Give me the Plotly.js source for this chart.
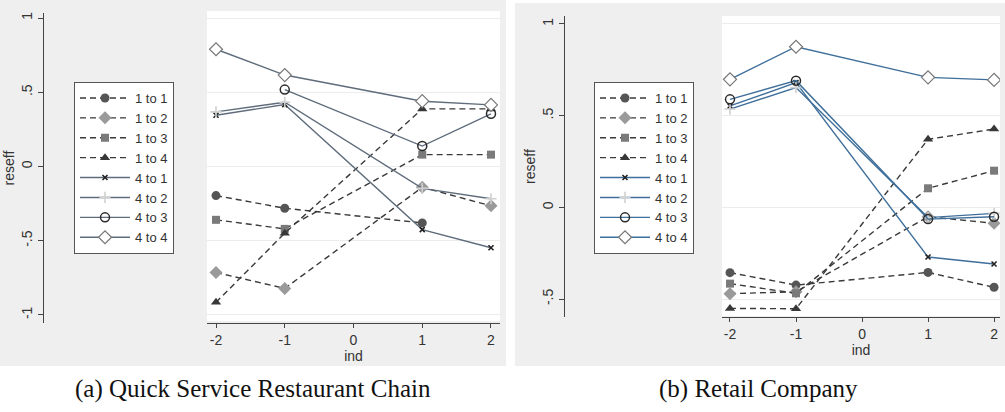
<!DOCTYPE html>
<html>
<head>
<meta charset="utf-8">
<script src="https://cdn.plot.ly/plotly-3.0.1.min.js"></script>
<style>html,body{margin:0;padding:0;background:#fff;}#chart{width:1005px;height:412px;}</style>
</head>
<body>
<div id="chart"></div>
<script>
// ---- data ----
const ind = [-2, -1, 1, 2];
const seriesNames = ["1 to 1", "1 to 2", "1 to 3", "1 to 4", "4 to 1", "4 to 2", "4 to 3", "4 to 4"];

// (a) Quick Service Restaurant Chain
const qsr_1to1 = [-0.196, -0.281, -0.380, null];
const qsr_1to2 = [-0.714, -0.821, -0.140, -0.265];
const qsr_1to3 = [-0.359, -0.420, 0.080, 0.080];
const qsr_1to4 = [-0.915, -0.449, 0.388, 0.388];
const qsr_4to1 = [0.345, 0.417, -0.425, -0.547];
const qsr_4to2 = [0.368, 0.433, -0.147, -0.217];
const qsr_4to3 = [null, 0.518, 0.138, 0.355];
const qsr_4to4 = [0.790, 0.616, 0.440, 0.415];

// (b) Retail Company
const ret_1to1 = [-0.356, -0.424, -0.355, -0.436];
const ret_1to2 = [-0.471, -0.460, -0.051, -0.087];
const ret_1to3 = [-0.416, -0.469, 0.104, 0.200];
const ret_1to4 = [-0.551, -0.553, 0.371, 0.427];
const ret_4to1 = [0.553, 0.680, -0.271, -0.309];
const ret_4to2 = [0.536, 0.653, -0.056, -0.033];
const ret_4to3 = [0.589, 0.691, -0.064, -0.051];
const ret_4to4 = [0.698, 0.876, 0.709, 0.695];

const xTickVals = [-2, -1, 0, 1, 2];
const xTickText = ["-2", "-1", "0", "1", "2"];
const yTickValsA = [-1, -0.5, 0, 0.5, 1];
const yTickTextA = ["-1", "-.5", "0", ".5", "1"];
const yTickValsB = [-0.5, 0, 0.5, 1];
const yTickTextB = ["-.5", "0", ".5", "1"];
const captions = ["(a) Quick Service Restaurant Chain", "(b) Retail Company"];
const xTitle = "ind";
const yTitle = "reseff";

// ---- styles ----
function styles(solidColor) {
  const dashLine = {color: "#3a3a3a", width: 1.4, dash: "6px,4px"};
  const solidLine = {color: solidColor, width: 1.4, dash: "solid"};
  return [
    {line: dashLine, marker: {symbol: "circle", size: 9, color: "#555555"}},
    {line: dashLine, marker: {symbol: "diamond", size: 10, color: "#9a9a9a"}},
    {line: dashLine, marker: {symbol: "square", size: 8, color: "#7a7a7a"}},
    {line: dashLine, marker: {symbol: "triangle-up", size: 9, color: "#383838"}},
    {line: solidLine, marker: {symbol: "x-thin", size: 5, color: "#222222", line: {width: 1.6, color: "#222222"}}},
    {line: solidLine, marker: {symbol: "cross-thin", size: 8, color: "#d0d0d0", line: {width: 1.6, color: "#d0d0d0"}}},
    {line: solidLine, marker: {symbol: "circle-open", size: 9, color: "#2a2a2a", line: {width: 1.5}}},
    {line: solidLine, marker: {symbol: "diamond", size: 10, color: "#ffffff", line: {width: 1.2, color: "#777777"}}}
  ];
}

const qsrSeries = [qsr_1to1, qsr_1to2, qsr_1to3, qsr_1to4, qsr_4to1, qsr_4to2, qsr_4to3, qsr_4to4];
const retSeries = [ret_1to1, ret_1to2, ret_1to3, ret_1to4, ret_4to1, ret_4to2, ret_4to3, ret_4to4];

const traces = [];
const stA = styles("#5f6c7b");
const stB = styles("#3f6f9a");
qsrSeries.forEach((ys, i) => {
  traces.push({x: ind, y: ys, name: seriesNames[i], type: "scatter", mode: "lines+markers",
    xaxis: "x", yaxis: "y", legend: "legend", line: stA[i].line, marker: stA[i].marker, connectgaps: false});
});
retSeries.forEach((ys, i) => {
  traces.push({x: ind, y: ys, name: seriesNames[i], type: "scatter", mode: "lines+markers",
    xaxis: "x2", yaxis: "y2", legend: "legend2", line: stB[i].line, marker: stB[i].marker, connectgaps: false});
});

const W = 1005, H = 412;
const px = v => v / W;
const py = v => 1 - v / H;

const tickFont = {family: "Liberation Sans, Arial, sans-serif", size: 14, color: "#333"};
const titleFont = {family: "Liberation Sans, Arial, sans-serif", size: 14, color: "#333"};

const legendBase = {
  bgcolor: "#ffffff", bordercolor: "#555", borderwidth: 1,
  font: {family: "Liberation Sans, Arial, sans-serif", size: 13, color: "#333"},
  xanchor: "left", yanchor: "top", itemwidth: 50, tracegroupgap: 0, traceorder: "normal"
};

const layout = {
  width: W, height: H,
  margin: {l: 0, r: 0, t: 0, b: 0},
  paper_bgcolor: "#ffffff",
  plot_bgcolor: "#ffffff",
  showlegend: true,
  xaxis: {
    domain: [px(207), px(500)], range: [-2.131, 2.131], anchor: "y",
    tickvals: xTickVals, ticktext: xTickText, tickfont: tickFont,
    ticks: "outside", ticklen: 4, tickcolor: "#444", showline: true, linecolor: "#444", linewidth: 1,
    showgrid: false, zeroline: false,
    title: {text: xTitle, font: titleFont, standoff: 0}
  },
  yaxis: {
    domain: [py(323), py(13)], range: [-1.054, 1.034], anchor: "free", position: px(43),
    tickvals: yTickValsA, ticktext: yTickTextA, tickfont: tickFont, tickangle: -90,
    ticks: "outside", ticklen: 5, tickcolor: "#444", showline: true, linecolor: "#444", linewidth: 1,
    showgrid: true, gridcolor: "#ececec", gridwidth: 1, zeroline: false,
    title: {text: yTitle, font: titleFont, standoff: 0}
  },
  xaxis2: {
    domain: [px(722), px(1000)], range: [-2.121, 2.09], anchor: "y2",
    tickvals: xTickVals, ticktext: xTickText, tickfont: tickFont,
    ticks: "outside", ticklen: 4, tickcolor: "#444", showline: true, linecolor: "#444", linewidth: 1,
    showgrid: false, zeroline: false,
    title: {text: xTitle, font: titleFont, standoff: 0}
  },
  yaxis2: {
    domain: [py(317), py(16)], range: [-0.598, 1.0436], anchor: "free", position: px(564),
    tickvals: yTickValsB, ticktext: yTickTextB, tickfont: tickFont, tickangle: -90,
    ticks: "outside", ticklen: 5, tickcolor: "#444", showline: true, linecolor: "#444", linewidth: 1,
    showgrid: true, gridcolor: "#ececec", gridwidth: 1, zeroline: false,
    title: {text: yTitle, font: titleFont, standoff: 0}
  },
  legend: Object.assign({}, legendBase, {x: px(74), y: py(82)}),
  legend2: Object.assign({}, legendBase, {x: px(594), y: py(82)}),
  shapes: [
    {type: "rect", xref: "paper", yref: "paper", x0: 0, x1: px(506), y0: py(366), y1: 1, fillcolor: "#efefef", line: {width: 0}, layer: "below"},
    {type: "rect", xref: "paper", yref: "paper", x0: px(515), x1: 1, y0: py(366), y1: py(3), fillcolor: "#efefef", line: {width: 0}, layer: "below"},
    {type: "rect", xref: "paper", yref: "paper", x0: px(207), x1: px(500), y0: py(321), y1: py(11), fillcolor: "#ffffff", line: {width: 0}, layer: "below"},
    {type: "rect", xref: "paper", yref: "paper", x0: px(722), x1: px(1000), y0: py(316), y1: py(16), fillcolor: "#ffffff", line: {width: 0}, layer: "below"}
  ],
  annotations: [
    {text: captions[0], xref: "paper", yref: "paper", x: px(253), y: py(389), xanchor: "center", yanchor: "middle", showarrow: false,
     font: {family: "Liberation Serif, Times New Roman, serif", size: 25, color: "#111"}},
    {text: captions[1], xref: "paper", yref: "paper", x: px(758), y: py(389), xanchor: "center", yanchor: "middle", showarrow: false,
     font: {family: "Liberation Serif, Times New Roman, serif", size: 25, color: "#111"}}
  ]
};

Plotly.newPlot("chart", traces, layout, {displayModeBar: false, staticPlot: true});
</script>
</body>
</html>
